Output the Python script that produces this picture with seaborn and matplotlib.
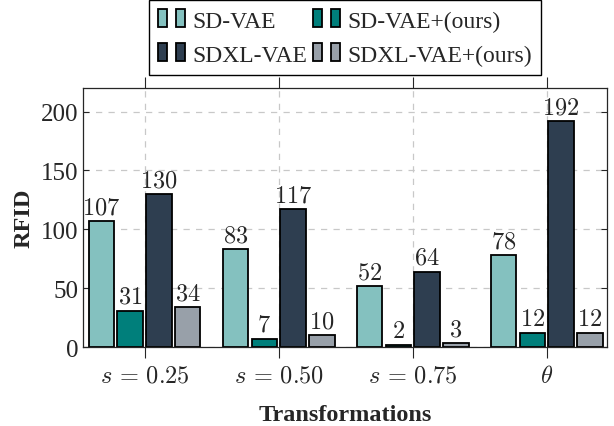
import numpy as np
import pandas as pd
import seaborn as sns
import matplotlib.pyplot as plt
from matplotlib.patches import Rectangle
from matplotlib.legend_handler import HandlerTuple

groups = [r"$s\,=\,0.25$", r"$s\,=\,0.50$", r"$s\,=\,0.75$", r"$\theta$"]
methods = ["SD-VAE", "SD-VAE+(ours)", "SDXL-VAE", "SDXL-VAE+(ours)"]
sd_vae = [107, 83, 52, 78]
sd_vae_ours = [31, 7, 2, 12]
sdxl_vae = [130, 117, 64, 192]
sdxl_vae_ours = [34, 10, 3, 12]
colors = ["#84c1bf", "#007f7b", "#2e3e50", "#98a0a9"]

df = pd.DataFrame({
    "group": groups * 4,
    "method": [m for m in methods for _ in groups],
    "rfid": sd_vae + sd_vae_ours + sdxl_vae + sdxl_vae_ours,
})

sns.set_style("ticks")
plt.rcParams["font.family"] = ["Liberation Serif", "DejaVu Serif"]
plt.rcParams["mathtext.fontset"] = "cm"

fig = plt.figure(figsize=(6.14, 4.27), dpi=100)
ax = fig.add_axes([0.135, 0.185, 0.8536, 0.6066])

sns.barplot(data=df, x="group", y="rfid", hue="method", order=groups,
            hue_order=methods, palette=colors, width=0.86, gap=0.12,
            edgecolor="black", linewidth=1.3, saturation=1, ax=ax, legend=False)

for cont in ax.containers:
    ax.bar_label(cont, labels=[f"${int(v)}$" for v in cont.datavalues],
                 padding=2, fontsize=17.5)

ax.set_ylim(0, 220)
ax.set_xlim(-0.46, 3.45)
ax.set_yticks([0, 50, 100, 150, 200])
ax.grid(True, linestyle=(0, (5, 5)), color="#c8c8c8", linewidth=0.9)
ax.set_axisbelow(True)
ax.tick_params(axis="x", direction="out", length=8, top=True, labelsize=17.5, pad=5)
ax.tick_params(axis="y", direction="in", length=4, right=True, labelsize=18)
for s in ax.spines.values():
    s.set_visible(True)
    s.set_linewidth(0.9)
ax.set_xlabel("Transformations", fontsize=17.5, fontweight="bold", labelpad=12)
ax.set_ylabel("RFID", fontsize=17.5, fontweight="bold", labelpad=4)

# legend fills row by row in the reference
order = [0, 2, 1, 3]
handles = [(Rectangle((0, 0), 1, 1, fc=colors[i], ec="black", lw=1.3),
            Rectangle((0, 0), 1, 1, fc=colors[i], ec="black", lw=1.3)) for i in order]
labels = [methods[i] for i in order]
ax.legend(handles, labels, loc="lower center", bbox_to_anchor=(0.5, 1.05),
          borderaxespad=0, ncol=2, fontsize=17,
          handler_map={tuple: HandlerTuple(ndivide=None, pad=0.35)},
          handlelength=1.15, handleheight=0.8, handletextpad=0.3,
          columnspacing=0.25, labelspacing=0.5, borderpad=0.4,
          fancybox=False, edgecolor="black", framealpha=1)

fig.savefig("out.png", dpi=100)
